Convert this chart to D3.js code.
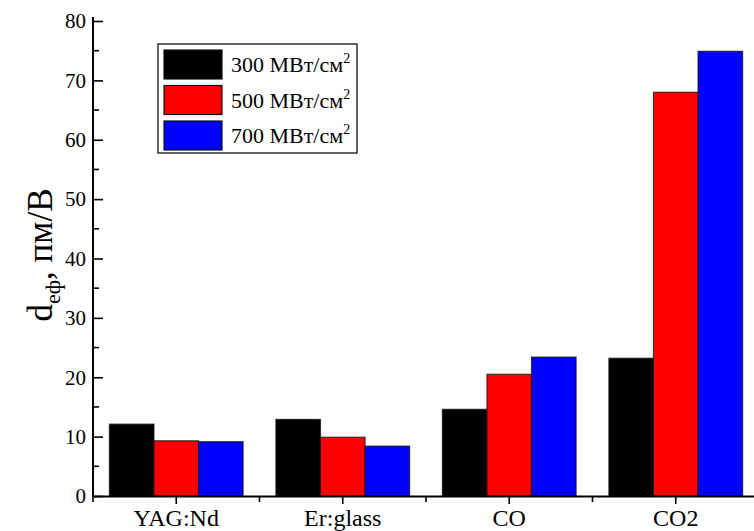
<!DOCTYPE html>
<html lang="ru">
<head>
<meta charset="utf-8">
<title>d_eф bar chart</title>
<script src="https://d3js.org/d3.v7.min.js"></script>
<style>
  body { margin: 0; background: #fff; }
  svg text { font-family: 'Liberation Serif', 'Times New Roman', 'DejaVu Serif', serif !important; fill: #000; }
</style>
</head>
<body>
<script>
// data
var categories = ["YAG:Nd", "Er:glass", "CO", "CO2"];
var seriesNames = ["300", "500", "700"];
var seriesColors = ["#000000", "#ff0000", "#0000ff"];
var values300 = [12.1, 12.9, 14.6, 23.2];
var values500 = [9.3, 9.9, 20.5, 68.0];
var values700 = [9.15, 8.4, 23.4, 74.9];
var yTicks = [0, 10, 20, 30, 40, 50, 60, 70, 80];

var series = [values300, values500, values700];
var serif = "'Liberation Serif', 'Times New Roman', serif";

var w = 754, h = 531;
var margin = {top: 21, right: -5, bottom: 35, left: 93};

var svg = d3.select("body").append("svg")
  .attr("width", w)
  .attr("height", h)
  .style("font-family", serif);

var x0 = d3.scaleBand()
  .domain(categories)
  .range([margin.left, w - margin.right])
  .paddingInner(0.197)
  .paddingOuter(0.0985);

var x1 = d3.scaleBand()
  .domain(seriesNames)
  .range([0, x0.bandwidth()]);

var y = d3.scaleLinear()
  .domain([0, 80])
  .range([h - margin.bottom, margin.top]);

// bars
var groups = svg.selectAll("g.grp")
  .data(categories)
  .enter().append("g")
  .attr("class", "grp")
  .attr("transform", function(d) { return "translate(" + x0(d) + ",0)"; });

groups.selectAll("rect")
  .data(function(d, i) {
    return seriesNames.map(function(s, j) { return {s: s, j: j, v: series[j][i]}; });
  })
  .enter().append("rect")
  .attr("x", function(d) { return x1(d.s); })
  .attr("y", function(d) { return y(d.v); })
  .attr("width", x1.bandwidth())
  .attr("height", function(d) { return y(0) - y(d.v); })
  .attr("fill", function(d) { return seriesColors[d.j]; })
  .attr("stroke", "#111")
  .attr("stroke-opacity", 0.75)
  .attr("stroke-width", 1.2);

// y axis, ticks inward
var yAxis = d3.axisRight(y)
  .tickValues(yTicks)
  .tickSize(10)
  .tickFormat("");
var gy = svg.append("g")
  .attr("transform", "translate(" + margin.left + ",0)")
  .call(yAxis);
gy.select(".domain").remove();
gy.selectAll(".tick line").attr("stroke-width", 1.6);

// minor y ticks
var minorY = d3.range(5, 80, 10);
svg.selectAll("line.minorY")
  .data(minorY)
  .enter().append("line")
  .attr("class", "minorY")
  .attr("x1", margin.left)
  .attr("x2", margin.left + 6)
  .attr("y1", function(d) { return y(d); })
  .attr("y2", function(d) { return y(d); })
  .attr("stroke", "#000")
  .attr("stroke-width", 1.6);

svg.append("line")
  .attr("x1", margin.left).attr("x2", margin.left)
  .attr("y1", y(80) - 4).attr("y2", y(0))
  .attr("stroke", "#000").attr("stroke-width", 2);

svg.selectAll("text.ylab")
  .data(yTicks)
  .enter().append("text")
  .attr("class", "ylab")
  .attr("x", margin.left - 7)
  .attr("y", function(d) { return y(d); })
  .attr("dy", "0.35em")
  .attr("text-anchor", "end")
  .attr("font-family", serif)
  .attr("font-size", 21)
  .text(function(d) { return d; });

// x axis
var xAxis = d3.axisBottom(x0).tickSize(8).tickSizeOuter(0);
var gx = svg.append("g")
  .attr("transform", "translate(0," + y(0) + ")")
  .call(xAxis)
  .attr("font-family", serif);
gx.select(".domain").attr("stroke-width", 2);
gx.selectAll(".tick line").attr("stroke-width", 1.6);
gx.selectAll(".tick text")
  .attr("font-family", serif)
  .attr("font-size", 24)
  .attr("fill", "#000")
  .attr("y", 13);

// minor x ticks at category boundaries
var bounds = categories.map(function(c) { return x0(c) + x0.bandwidth() / 2 - x0.step() / 2; });
svg.selectAll("line.minorX")
  .data(bounds)
  .enter().append("line")
  .attr("class", "minorX")
  .attr("x1", function(d) { return d; })
  .attr("x2", function(d) { return d; })
  .attr("y1", y(0))
  .attr("y2", y(0) + 6)
  .attr("stroke", "#000")
  .attr("stroke-width", 1.6);

// y label
var yl = svg.append("text")
  .attr("transform", "translate(52," + 255 + ") rotate(-90)")
  .attr("text-anchor", "middle")
  .attr("font-family", serif)
  .attr("font-size", 35);
yl.append("tspan").text("d");
yl.append("tspan").attr("font-size", 22).attr("dy", 8).text("eф");
yl.append("tspan").attr("dy", -8).text(", пм/В");

// legend
var lg = svg.append("g").attr("transform", "translate(158,44)");
lg.append("rect")
  .attr("width", 199).attr("height", 109)
  .attr("fill", "#fff").attr("stroke", "#000").attr("stroke-width", 1.2);
var items = lg.selectAll("g.item")
  .data(seriesNames)
  .enter().append("g")
  .attr("class", "item")
  .attr("transform", function(d, i) { return "translate(6," + (6 + i * 35.5) + ")"; });
items.append("rect")
  .attr("width", 58).attr("height", 29)
  .attr("fill", function(d, i) { return seriesColors[i]; })
  .attr("stroke", "#111").attr("stroke-width", 1.2);
var lt = items.append("text")
  .attr("x", 67).attr("y", 22)
  .attr("font-family", serif)
  .attr("font-size", 22);
lt.append("tspan").text(function(d) { return d + " МВт/см"; });
lt.append("tspan").attr("font-size", 14).attr("dy", -9).text("2");
</script>
</body>
</html>
